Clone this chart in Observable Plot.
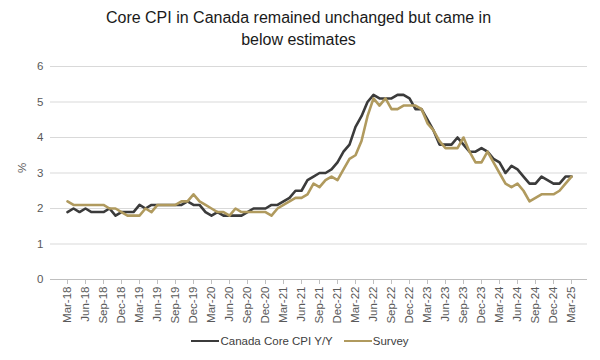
<!DOCTYPE html>
<html>
<head>
<meta charset="utf-8">
<script src="https://cdn.jsdelivr.net/npm/d3@7"></script>
<script src="https://cdn.jsdelivr.net/npm/@observablehq/plot@0.6"></script>
<style>
  body { margin: 0; background: #fff; font-family: "Liberation Sans", Arial, sans-serif; }
  #wrap { width: 600px; height: 360px; position: relative; overflow: hidden; background: #fff; }
  #title { position: absolute; top: 7px; left: 0; width: 597px; text-align: center; font-size: 16px; line-height: 22px; color: #1a1a1a; }
  #chart { position: absolute; top: 52px; left: 0; }
  #legend { position: absolute; top: 333px; left: 0; width: 600px; height: 16px; display: flex; justify-content: center; align-items: center; font-size: 11.5px; color: #404040; }
  .sw { display: inline-block; width: 28px; height: 0; border-top: 2.6px solid; margin-right: 1px; }
  .item { display: flex; align-items: center; }
</style>
</head>
<body>
<div id="wrap">
  <div id="title">Core CPI in Canada remained unchanged but came in<br>below estimates</div>
  <div id="chart"></div>
  <div id="legend"></div>
</div>
<script>
// Monthly categories Mar-18 .. Mar-25
const months = d3.utcMonth.range(new Date(Date.UTC(2018, 2, 1)), new Date(Date.UTC(2025, 3, 1))).map(d3.utcFormat("%b-%y"));

const tickLabels = ["Mar-18","Jun-18","Sep-18","Dec-18","Mar-19","Jun-19","Sep-19","Dec-19","Mar-20","Jun-20","Sep-20","Dec-20","Mar-21","Jun-21","Sep-21","Dec-21","Mar-22","Jun-22","Sep-22","Dec-22","Mar-23","Jun-23","Sep-23","Dec-23","Mar-24","Jun-24","Sep-24","Dec-24","Mar-25"];
const yTicks = [0, 1, 2, 3, 4, 5, 6];

const seriesNames = ["Canada Core CPI Y/Y", "Survey"];

const coreCPI = [
  1.9, 2.0, 1.9, 2.0, 1.9, 1.9, 1.9, 2.0, 1.8, 1.9, 1.9, 1.9,
  2.1, 2.0, 2.1, 2.1, 2.1, 2.1, 2.1, 2.1, 2.2, 2.1, 2.1, 1.9,
  1.8, 1.9, 1.8, 1.8, 1.8, 1.8, 1.9, 2.0, 2.0, 2.0, 2.1, 2.1,
  2.2, 2.3, 2.5, 2.5, 2.8, 2.9, 3.0, 3.0, 3.1, 3.3, 3.6, 3.8,
  4.3, 4.6, 5.0, 5.2, 5.1, 5.1, 5.1, 5.2, 5.2, 5.1, 4.8, 4.8,
  4.5, 4.2, 3.8, 3.8, 3.8, 4.0, 3.8, 3.6, 3.6, 3.7, 3.6, 3.4,
  3.3, 3.0, 3.2, 3.1, 2.9, 2.7, 2.7, 2.9, 2.8, 2.7, 2.7, 2.9,
  2.9
];

const survey = [
  2.2, 2.1, 2.1, 2.1, 2.1, 2.1, 2.1, 2.0, 2.0, 1.9, 1.8, 1.8,
  1.8, 2.0, 1.9, 2.1, 2.1, 2.1, 2.1, 2.2, 2.2, 2.4, 2.2, 2.1,
  2.0, 1.9, 1.9, 1.8, 2.0, 1.9, 1.9, 1.9, 1.9, 1.9, 1.8, 2.0,
  2.1, 2.2, 2.3, 2.3, 2.4, 2.7, 2.6, 2.8, 2.9, 2.8, 3.1, 3.4,
  3.5, 3.9, 4.6, 5.1, 4.9, 5.1, 4.8, 4.8, 4.9, 4.9, 4.9, 4.8,
  4.4, 4.2, 3.9, 3.7, 3.7, 3.7, 4.0, 3.6, 3.3, 3.3, 3.6, 3.3,
  3.0, 2.7, 2.6, 2.7, 2.5, 2.2, 2.3, 2.4, 2.4, 2.4, 2.5, 2.7,
  2.9
];

const colors = ["#3b3b3b", "#b09a5e"];

const coreData = months.map((m, i) => ({ month: m, value: coreCPI[i] }));
const surveyData = months.map((m, i) => ({ month: m, value: survey[i] }));

const chart = Plot.plot({
  width: 600,
  height: 280,
  marginLeft: 50,
  marginRight: 13,
  marginTop: 14,
  marginBottom: 53,
  style: { fontFamily: "'Liberation Sans', Arial, sans-serif", fontSize: "11.5px", color: "#595959", background: "transparent" },
  x: { type: "point", domain: months, padding: 0.5 },
  y: { domain: [0, 6] },
  marks: [
    Plot.ruleY(yTicks.slice(1), { stroke: "#d9d9d9", strokeWidth: 1 }),
    Plot.ruleY([0], { stroke: "#bfbfbf", strokeWidth: 1 }),
    Plot.axisY({ ticks: yTicks, tickSize: 0, tickPadding: 7, label: null, tickFormat: d => String(d), fill: "#595959" }),
    Plot.axisX({ ticks: tickLabels, tickSize: 5, tickRotate: -90, tickPadding: 2, label: null, stroke: "#bfbfbf", fill: "#595959" }),
    Plot.line(coreData, { x: "month", y: "value", stroke: colors[0], strokeWidth: 2.6 }),
    Plot.line(surveyData, { x: "month", y: "value", stroke: colors[1], strokeWidth: 2.6 }),
    Plot.text(["%"], { frameAnchor: "left", dx: -28, rotate: -90, fill: "#595959", fontSize: 11.5 })
  ]
});
document.getElementById("chart").appendChild(chart);

const legend = document.getElementById("legend");
seriesNames.forEach((name, i) => {
  const item = document.createElement("span");
  item.className = "item";
  if (i > 0) item.style.marginLeft = "11px";
  const sw = document.createElement("span");
  sw.className = "sw";
  sw.style.borderTopColor = colors[i];
  const t = document.createElement("span");
  t.textContent = name;
  item.appendChild(sw);
  item.appendChild(t);
  legend.appendChild(item);
});
</script>
</body>
</html>
